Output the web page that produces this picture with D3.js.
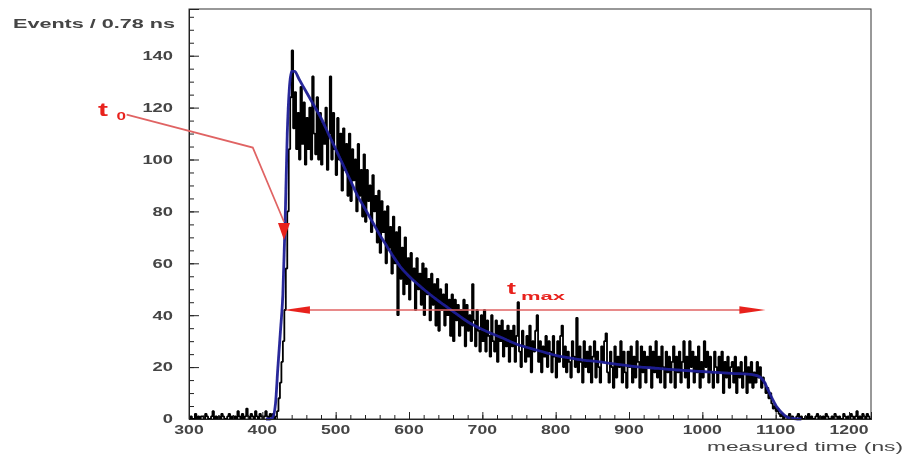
<!DOCTYPE html>
<html>
<head>
<meta charset="utf-8">
<script src="https://cdn.jsdelivr.net/npm/d3@7"></script>
<style>
  html, body { margin: 0; padding: 0; background: #fff; }
  svg { display: block; }
  text { font-family: "Liberation Sans", Arial, sans-serif; }
</style>
</head>
<body>
<svg id="chart" width="904" height="454"></svg>
<script>
// ---------------- data ----------------
const xDomain = [300, 1230];
const yDomain = [0, 158];
const xTickLabels = [300, 400, 500, 600, 700, 800, 900, 1000, 1100, 1200];
const yTickLabels = [0, 20, 40, 60, 80, 100, 120, 140];

// measured histogram (Events per bin), bins starting at 300 ns, 2 ns apart
const binStart = 300;
const binWidth = 2;
const eventCounts = [
  0,1,0,0,2,0,1,0,1,1,   0,2,1,0,0,1,3,0,1,0,   1,0,2,1,0,0,1,2,0,1,
  0,1,0,3,1,0,2,0,1,4,   1,0,2,1,0,3,1,0,2,1,   0,1,3,1,0,2,1,2,0,1,
  3,8,14,22,30,42,58,80,104,124,
  142,112,126,104,118,100,128,106,122,98,
  116,104,120,100,132,110,102,124,100,118,
  98,114,106,120,96,110,132,100,118,104,
  94,116,100,110,88,112,96,106,86,110,
  84,104,92,100,80,106,86,96,78,102,
  76,96,84,90,72,94,80,86,68,88,
  64,84,72,80,60,82,66,74,56,78,
  60,72,40,74,54,66,48,70,52,62,
  46,64,54,58,42,62,50,56,44,60,
  40,58,48,54,38,56,44,52,36,54,
  34,50,42,48,36,52,40,46,32,48,
  30,46,38,44,32,42,36,46,28,44,
  34,40,30,52,38,28,42,34,26,40,
  30,42,26,38,32,24,40,30,26,38,
  22,36,30,38,24,34,28,36,22,34,
  28,36,22,32,45,26,20,34,28,22,
  32,24,36,18,30,26,34,40,22,30,
  18,28,24,32,20,30,26,18,32,24,
  16,30,22,32,36,20,28,18,26,22,
  16,30,24,20,39,18,28,22,14,30,
  20,26,18,28,14,24,30,16,26,20,
  14,28,22,30,33,18,14,26,20,12,
  28,16,24,20,30,14,26,18,12,26,
  20,28,14,24,16,30,22,12,28,18,
  26,14,24,20,28,12,26,18,30,16,
  24,14,28,20,12,26,18,24,14,22,
  28,12,24,18,26,14,22,30,16,24,
  12,30,20,26,14,24,18,28,12,22,
  16,30,20,26,14,24,18,12,26,20,
  14,24,18,26,10,22,16,24,12,20,
  22,14,24,10,20,16,22,12,18,24,
  10,20,14,22,12,18,14,22,16,20,
  12,16,14,10,12,8,10,6,4,5,
  3,4,2,1,2,0,1,1,0,2,
  0,1,0,0,1,2,0,1,0,0,
  1,0,2,0,1,0,0,1,2,0,
  1,0,1,0,2,1,0,0,1,0,
  2,1,0,1,0,0,2,1,0,1,
  0,2,1,0,1,3,0,1,0,2,
  1,0,2,1,0
];

// fitted curve [time ns, events] (estimated)
const fitCurve = [
  [405,0],[410,0],[414,0.5],[418,6],[421,19],[425,35],[428,48],[431,75],[434,110],[437,128],
  [440,134],[444,134],[450,131],[460,126],[470,121],[480,116],[490,110],[500,104],[510,98],
  [520,92],[530,86],[540,81],[550,76],[560,71],[570,66.5],[580,62],[590,58],[600,55],
  [620,50],[640,45.5],[660,41.5],[680,37.5],[700,34.5],[725,31.5],[750,28.5],[775,26.5],
  [800,24.5],[830,23],[860,22],[900,20.5],[940,19.5],[970,18.8],[1000,18.3],[1040,17.6],
  [1070,17],[1078,16.3],[1084,14.5],[1090,11],[1096,7.5],[1102,4.5],[1108,2.5],[1114,1],
  [1120,0.3],[1130,0],[1135,0]
];

// annotations (data coordinates)
const t0Pointer = [[215, 117.3], [387, 104.6], [429.5, 76]];
const t0Tip = [429.5, 69];
const tmaxRange = [429.5, 1086];
const tmaxLevel = 42;

// ---------------- layout ----------------
const svg = d3.select("#chart");
const L = 189, R = 871, T = 9, B = 419;
const x = d3.scaleLinear().domain(xDomain).range([L, R]);
const y = d3.scaleLinear().domain(yDomain).range([B, T]);

const axisColor = "#222";
const labelColor = "#444";
const red = "#e8231f";
const redLine = "#e06464";

const defs = svg.append("defs");
defs.append("filter").attr("id", "soft").attr("x", "-5%").attr("y", "-5%").attr("width", "110%").attr("height", "110%")
  .append("feGaussianBlur").attr("stdDeviation", 0.55);

const root = svg.append("g").attr("filter", "url(#soft)");

// frame
root.append("rect").attr("x", L).attr("y", T).attr("width", R - L).attr("height", B - T)
  .attr("fill", "none").attr("stroke", "#333").attr("stroke-width", 1);

// histogram (step outline, ROOT style)
const hist = eventCounts.map((v, i) => [binStart + i * binWidth, v]);
hist.push([binStart + eventCounts.length * binWidth, eventCounts[eventCounts.length - 1]]);
const histLine = d3.line().x(d => x(Math.min(d[0], xDomain[1]))).y(d => y(d[1])).curve(d3.curveStepAfter);
root.append("path").datum(hist).attr("d", histLine)
  .attr("fill", "none").attr("stroke", "#000").attr("stroke-width", 1.8).attr("stroke-linejoin", "bevel");

// fit curve
const fitLine = d3.line().x(d => x(d[0])).y(d => y(d[1])).curve(d3.curveMonotoneX);
root.append("path").datum(fitCurve).attr("d", fitLine)
  .attr("fill", "none").attr("stroke", "#1e1e96").attr("stroke-width", 2.8).attr("stroke-opacity", 0.95);

// axes (ROOT-like: ticks inside frame)
const yAxis = d3.axisRight(y).tickValues(yTickLabels).tickSize(10).tickFormat("");
const gy = root.append("g").attr("transform", `translate(${L},0)`).call(yAxis);
const yMinor = d3.axisRight(y).tickValues(d3.range(0, 158, 5)).tickSize(5).tickFormat("");
const gym = root.append("g").attr("transform", `translate(${L},0)`).call(yMinor);
const xAxis = d3.axisTop(x).tickValues(xTickLabels).tickSize(7).tickFormat("");
const gx = root.append("g").attr("transform", `translate(0,${B})`).call(xAxis);
const xMinor = d3.axisTop(x).tickValues(d3.range(300, 1230, 20)).tickSize(4).tickFormat("");
const gxm = root.append("g").attr("transform", `translate(0,${B})`).call(xMinor);
[gy, gym, gx, gxm].forEach(g => {
  g.selectAll("path.domain").attr("stroke", axisColor);
  g.selectAll(".tick line").attr("stroke", axisColor);
});

// tick labels (stretched, as in reference)
function stretchedText(g, str, px, py, size, width, anchor, weight, fill) {
  return g.append("text").attr("x", px).attr("y", py)
    .attr("font-size", size).attr("font-weight", weight || "bold")
    .attr("text-anchor", anchor || "start")
    .attr("textLength", width).attr("lengthAdjust", "spacingAndGlyphs")
    .attr("fill", fill || labelColor).text(str);
}
yTickLabels.forEach(v => {
  const s = String(v);
  stretchedText(root, s, 173, y(v) + 4.3, 12, s.length * 10.2, "end");
});
xTickLabels.forEach(v => {
  const s = String(v);
  stretchedText(root, s, x(v), 433.5, 12, s.length * 9.8, "middle");
});

// axis titles
stretchedText(root, "Events / 0.78 ns", 13, 27.5, 12, 162, "start");
stretchedText(root, "measured time (ns)", 903, 451, 12, 196, "end", "normal", "#444");

// t0 annotation
root.append("path").datum(t0Pointer)
  .attr("d", d3.line().x(d => x(d[0])).y(d => y(d[1])))
  .attr("fill", "none").attr("stroke", redLine).attr("stroke-width", 1.7);
{
  const tx = x(t0Tip[0]), ty = y(t0Tip[1]);
  root.append("path").attr("d", `M${tx},${ty} L${tx - 6},${ty - 17} L${tx + 6},${ty - 17} Z`)
    .attr("fill", red);
}
stretchedText(root, "t", 98, 115.5, 18, 10, "start", "bold", red);
stretchedText(root, "0", 116.5, 119.5, 11, 9.5, "start", "bold", red);

// tmax annotation
{
  const yy = y(tmaxLevel), x1 = x(tmaxRange[0]), x2 = x(tmaxRange[1]);
  root.append("line").attr("x1", x1 + 10).attr("x2", x2 - 10).attr("y1", yy).attr("y2", yy)
    .attr("stroke", redLine).attr("stroke-width", 1.7);
  root.append("path").attr("d", `M${x1},${yy} L${x1 + 26},${yy - 3.8} L${x1 + 26},${yy + 3.8} Z`).attr("fill", red);
  root.append("path").attr("d", `M${x2},${yy} L${x2 - 26},${yy - 3.8} L${x2 - 26},${yy + 3.8} Z`).attr("fill", red);
}
stretchedText(root, "t", 507, 293.5, 17, 9, "start", "bold", red);
stretchedText(root, "max", 521, 300, 10, 44, "start", "bold", red);
</script>
</body>
</html>
